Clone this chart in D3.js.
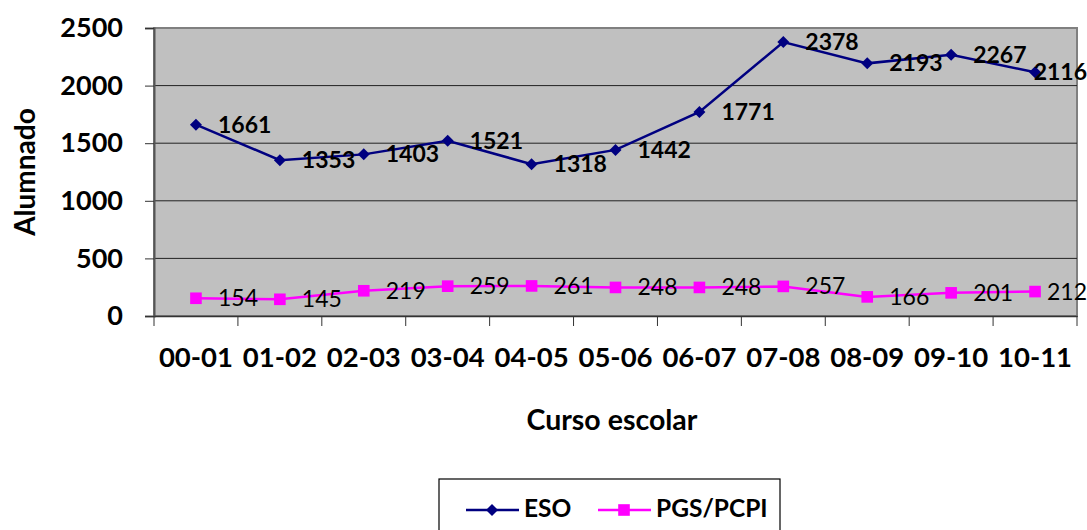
<!DOCTYPE html>
<html lang="es">
<head>
<meta charset="utf-8">
<title>Alumnado por curso escolar</title>
<script src="https://cdn.jsdelivr.net/npm/d3@7"></script>
<style>
  body { margin: 0; background: #fff; }
  text { font-family: Lato, "Open Sans", sans-serif; }
</style>
</head>
<body>
<div id="chart"></div>
<script>
// data
var cursos = ["00-01","01-02","02-03","03-04","04-05","05-06","06-07","07-08","08-09","09-10","10-11"];
var eso = [1661,1353,1403,1521,1318,1442,1771,2378,2193,2267,2116];
var pgs = [154,145,219,259,261,248,248,257,166,201,212];
var yTicks = [0,500,1000,1500,2000,2500];

var w = 1087, h = 530;
var plot = {left: 154, right: 1077, top: 28, bottom: 316};

var svg = d3.select("#chart").append("svg")
  .attr("width", w).attr("height", h);

var x = d3.scaleBand().domain(cursos).range([plot.left, plot.right]);
var y = d3.scaleLinear().domain([0, 2500]).range([plot.bottom, plot.top]);

// plot area
svg.append("rect")
  .attr("x", plot.left).attr("y", plot.top)
  .attr("width", plot.right - plot.left).attr("height", plot.bottom - plot.top)
  .attr("fill", "#c0c0c0")
  .attr("stroke", "#808080").attr("stroke-width", 2);

// gridlines
svg.append("g").selectAll("line")
  .data(yTicks.slice(1, -1))
  .enter().append("line")
  .attr("x1", plot.left).attr("x2", plot.right)
  .attr("y1", d => y(d)).attr("y2", d => y(d))
  .attr("stroke", "#222").attr("stroke-width", 1);

// y axis
var yAxis = svg.append("g")
  .attr("transform", "translate(" + plot.left + ",0)")
  .call(d3.axisLeft(y).tickValues(yTicks).tickFormat(d3.format("d")).tickSize(9).tickPadding(22));
yAxis.select(".domain").attr("stroke", "#555").attr("stroke-width", 2);
yAxis.selectAll(".tick line").attr("stroke", "#333");
yAxis.selectAll("text")
  .attr("font-size", 27).attr("font-weight", "bold").attr("fill", "#000")
  .attr("font-family", "Lato, sans-serif");

// x axis
var xAxis = svg.append("g")
  .attr("transform", "translate(0," + plot.bottom + ")")
  .call(d3.axisBottom(x).tickSize(0).tickPadding(31));
xAxis.select(".domain").attr("stroke", "#333").attr("stroke-width", 1.5);
xAxis.selectAll("text")
  .attr("font-size", 27.5).attr("font-weight", "bold").attr("fill", "#000")
  .attr("font-family", "Lato, sans-serif");
// tick marks between categories
svg.append("g").selectAll("line")
  .data(d3.range(cursos.length + 1))
  .enter().append("line")
  .attr("x1", i => plot.left + i * x.step()).attr("x2", i => plot.left + i * x.step())
  .attr("y1", plot.bottom).attr("y2", plot.bottom + 10)
  .attr("stroke", "#333");

// axis titles
svg.append("text")
  .attr("transform", "translate(35,172) rotate(-90)")
  .attr("text-anchor", "middle")
  .attr("font-size", 28).attr("font-weight", "bold")
  .text("Alumnado");
svg.append("text")
  .attr("x", 612).attr("y", 430)
  .attr("text-anchor", "middle")
  .attr("font-size", 28.5).attr("font-weight", "bold")
  .text("Curso escolar");

var cx = d => x(d) + x.bandwidth() / 2;
var line = d3.line().x(d => cx(d[0])).y(d => y(d[1]));

// diamond = rotated square
var series = [
  {name: "ESO", values: eso, color: "#000080", marker: d3.symbolSquare, size: 72, rot: 45, bold: true},
  {name: "PGS/PCPI", values: pgs, color: "#ff00ff", marker: d3.symbolSquare, size: 135, rot: 0, bold: false}
];

series.forEach(function(s) {
  var pts = cursos.map((c, i) => [c, s.values[i]]);
  svg.append("path")
    .datum(pts)
    .attr("d", line)
    .attr("fill", "none")
    .attr("stroke", s.color)
    .attr("stroke-width", 2.5);
  svg.append("g").selectAll("path")
    .data(pts).enter().append("path")
    .attr("transform", d => "translate(" + cx(d[0]) + "," + y(d[1]) + ") rotate(" + s.rot + ")")
    .attr("d", d3.symbol().type(s.marker).size(s.size))
    .attr("fill", s.color);
  svg.append("g").selectAll("text")
    .data(pts).enter().append("text")
    .attr("y", d => y(d[1]) + 8)
    .attr("font-size", 23)
    .attr("font-weight", s.bold ? "bold" : "normal")
    .attr("fill", "#000")
    .text(d => d[1])
    .attr("x", function(d) {
      var len = this.getComputedTextLength();
      return Math.min(cx(d[0]) + 22, w - len);
    });
});

// legend
var lg = svg.append("g");
lg.append("rect")
  .attr("x", 439).attr("y", 479).attr("width", 341).attr("height", 60)
  .attr("fill", "#fff").attr("stroke", "#000").attr("stroke-width", 1.2);
var legendItems = [{s: series[0], x: 466}, {s: series[1], x: 598}];
legendItems.forEach(function(it) {
  lg.append("line")
    .attr("x1", it.x).attr("x2", it.x + 53)
    .attr("y1", 510).attr("y2", 510)
    .attr("stroke", it.s.color).attr("stroke-width", 2.5);
  lg.append("path")
    .attr("transform", "translate(" + (it.x + 26) + ",510) rotate(" + it.s.rot + ")")
    .attr("d", d3.symbol().type(it.s.marker).size(it.s.size))
    .attr("fill", it.s.color);
  lg.append("text")
    .attr("x", it.x + 58).attr("y", 517)
    .attr("font-size", 24.5).attr("font-weight", "bold")
    .text(it.s.name);
});
</script>
</body>
</html>
